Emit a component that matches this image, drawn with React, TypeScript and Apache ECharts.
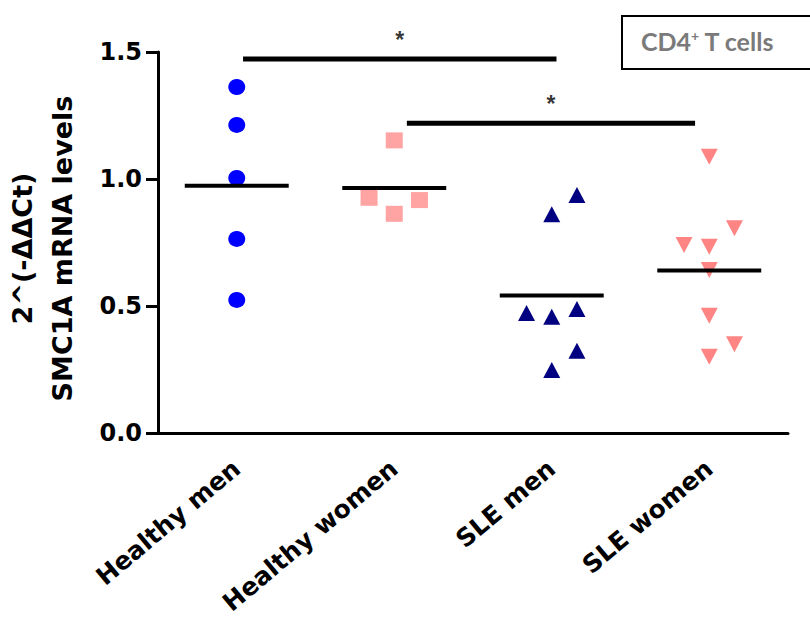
import React, { useEffect, useRef } from "react";
import * as echarts from "echarts";

const categories = ["Healthy men", "Healthy women", "SLE men", "SLE women"];

const healthyMen = [1.362, 1.213, 1.004, 0.764, 0.524];
const healthyMenDx = [0, 0, 0, 0, 0];
const healthyWomen = [1.152, 0.926, 0.917, 0.863];
const healthyWomenDx = [0, -0.16, 0.16, 0];
const sleMen = [0.937, 0.861, 0.472, 0.458, 0.488, 0.324, 0.248];
const sleMenDx = [0.16, 0, -0.16, 0, 0.16, 0.16, 0];
const sleWomen = [1.088, 0.806, 0.74, 0.733, 0.642, 0.462, 0.349, 0.3];
const sleWomenDx = [0, 0.16, -0.16, 0, 0, 0, 0.16, 0];

const sigFrom = [0.04, 1.08];
const sigTo = [2.03, 2.91];
const sigY = [1.472, 1.219];
const sigText = ["*", "*"];

const yTicks = [0, 0.5, 1.0, 1.5];

const FONT = "DejaVu Sans";

export default function App() {
  const ref = useRef<HTMLDivElement>(null);
  useEffect(() => {
    if (!ref.current) return;
    const chart = echarts.init(ref.current, undefined, { renderer: "svg" });
    const groups = [
      { vals: healthyMen, dx: healthyMenDx, symbol: "circle", color: "#0000ff", size: [17, 16], rotate: 0 },
      { vals: healthyWomen, dx: healthyWomenDx, symbol: "rect", color: "#ffa3a3", size: [17, 16], rotate: 0 },
      { vals: sleMen, dx: sleMenDx, symbol: "triangle", color: "#000080", size: [17, 16], rotate: 0 },
      { vals: sleWomen, dx: sleWomenDx, symbol: "triangle", color: "#ff8585", size: [17, 16], rotate: 180 },
    ];
    const scatterSeries = groups.map((g, i) => ({
      type: "scatter",
      xAxisIndex: 1,
      yAxisIndex: 0,
      symbol: g.symbol,
      symbolSize: g.size,
      symbolRotate: g.rotate,
      itemStyle: { color: g.color, opacity: 1 },
      data: g.vals.map((v, j) => [i + g.dx[j], v]),
      z: 2,
    }));
    const meanSeries = groups.map((g, i) => {
      const m = g.vals.reduce((a, b) => a + b, 0) / g.vals.length;
      return {
        type: "line",
        xAxisIndex: 1,
        yAxisIndex: 0,
        symbol: "none",
        lineStyle: { color: "#000", width: 4 },
        data: [
          [i - 0.33, m],
          [i + 0.33, m],
        ],
        z: 3,
      };
    });
    const sigSeries = sigFrom.map((f, k) => ({
      type: "line",
      xAxisIndex: 1,
      yAxisIndex: 0,
      symbol: "none",
      lineStyle: { color: "#000", width: 5 },
      data: [
        [f, sigY[k]],
        [sigTo[k], sigY[k]],
      ],
      z: 3,
    }));
    const starSeries = {
      type: "scatter",
      xAxisIndex: 1,
      yAxisIndex: 0,
      symbolSize: 0,
      data: sigFrom.map((f, k) => ({
        value: [(f + sigTo[k]) / 2, sigY[k]],
        label: {
          show: true,
          position: "top",
          distance: 8,
          formatter: sigText[k],
          color: "#000",
          fontFamily: "Liberation Sans",
          fontWeight: "bold",
          fontSize: 23,
        },
      })),
    };
    chart.setOption({
      animation: false,
      backgroundColor: "#fff",
      grid: { left: 158, right: 22, top: 52, bottom: 186, containLabel: false, outerBoundsMode: "none" },
      xAxis: [
        {
          type: "category",
          data: categories,
          boundaryGap: true,
          axisLine: { lineStyle: { color: "#000", width: 3 } },
          axisTick: { alignWithLabel: true, length: 10, lineStyle: { color: "#000", width: 3 } },
          axisLabel: {
            rotate: 40,
            margin: 32,
            color: "#000",
            fontFamily: FONT,
            fontWeight: "bold",
            fontSize: 25,
          },
          splitLine: { show: false },
        },
        {
          type: "value",
          min: -0.5,
          max: 3.5,
          show: false,
          splitLine: { show: false },
        },
      ],
      yAxis: {
        type: "value",
        min: 0,
        max: 1.5,
        interval: 0.5,
        name: "2^(-ΔΔCt)\nSMC1A mRNA levels",
        nameLocation: "middle",
        nameRotate: 90,
        nameGap: 76,
        nameTextStyle: {
          color: "#000",
          fontFamily: FONT,
          fontWeight: "bold",
          fontSize: 27,
          lineHeight: 40,
          padding: [0, 12, 0, 0],
        },
        axisLine: { show: true, onZero: false, lineStyle: { color: "#000", width: 3 } },
        axisTick: { show: true, length: 12, lineStyle: { color: "#000", width: 3 } },
        axisLabel: {
          margin: 16,
          color: "#000",
          fontFamily: FONT,
          fontWeight: "bold",
          fontSize: 24,
          formatter: (v: number) => (yTicks.includes(v) ? v.toFixed(1) : ""),
        },
        splitLine: { show: false },
      },
      graphic: [
        {
          type: "rect",
          left: 621,
          top: 15,
          shape: { x: 0, y: 0, width: 200, height: 53 },
          style: { fill: "#fff", stroke: "#000", lineWidth: 2 },
        },
        {
          type: "text",
          left: 641,
          top: 28,
          style: {
            text: "{a|CD4}{s|+}{a| T cells}",
            fill: "#7a7a7a",
            rich: {
              a: { fontFamily: "Lato", fontWeight: "bold", fontSize: 25, fill: "#7a7a7a" },
              s: { fontFamily: "Lato", fontWeight: "bold", fontSize: 14, fill: "#7a7a7a", verticalAlign: "top", padding: [0, 0, 12, 0] },
            },
          },
        },
      ],
      series: [...scatterSeries, ...meanSeries, ...sigSeries, starSeries],
    });
    return () => chart.dispose();
  }, []);
  return (
    <div
      ref={ref}
      style={{ position: "absolute", left: 0, top: 0, width: 810, height: 619, background: "#fff" }}
    />
  );
}
